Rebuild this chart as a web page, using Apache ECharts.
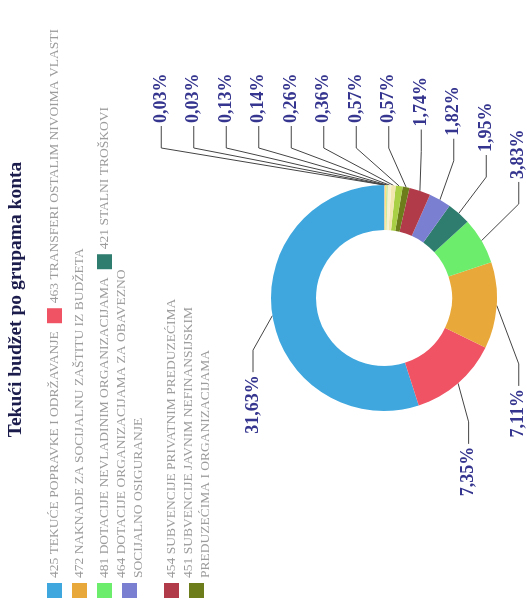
<!DOCTYPE html>
<html>
<head>
<meta charset="utf-8">
<script src="https://cdn.jsdelivr.net/npm/echarts@6/dist/echarts.min.js"></script>
<style>
  html, body { margin: 0; padding: 0; background: #fff; overflow: hidden; width: 527px; height: 599px; }
  #wrap { position: absolute; left: -36px; top: 36px; width: 599px; height: 527px; transform: rotate(-90deg); transform-origin: 50% 50%; background: #fff; }
  #chart { width: 599px; height: 527px; }
</style>
</head>
<body>
<div id="wrap"><div id="chart"></div></div>
<script>
// ---- data ----
const titleText = 'Tekući budžet po grupama konta';
const categories = [
  '425 TEKUĆE POPRAVKE I ODRŽAVANJE',
  '463 TRANSFERI OSTALIM NIVOIMA VLASTI',
  '472 NAKNADE ZA SOCIJALNU ZAŠTITU IZ BUDŽETA',
  '481 DOTACIJE NEVLADINIM ORGANIZACIJAMA',
  '421 STALNI TROŠKOVI',
  '464 DOTACIJE ORGANIZACIJAMA ZA OBAVEZNO SOCIJALNO OSIGURANJE',
  '454 SUBVENCIJE PRIVATNIM PREDUZEĆIMA',
  '451 SUBVENCIJE JAVNIM NEFINANSIJSKIM PREDUZEĆIMA I ORGANIZACIJAMA',
  '465 OSTALE DOTACIJE I TRANSFERI',
  '482 POREZI, OBAVEZNE TAKSE I KAZNE',
  '426 MATERIJAL',
  '422 TROŠKOVI PUTOVANJA',
  '444 PRATEĆI TROŠKOVI ZADUŽIVANJA',
  '483 NOVČANE KAZNE I PENALI',
  '485 NAKNADA ŠTETE'
];
const values = [31.63, 7.35, 7.11, 3.83, 1.95, 1.82, 1.74, 0.57, 0.57, 0.36, 0.26, 0.14, 0.13, 0.03, 0.03];
const legendShown = 8;
const legendLines = {
  '464 DOTACIJE ORGANIZACIJAMA ZA OBAVEZNO SOCIJALNO OSIGURANJE': '464 DOTACIJE ORGANIZACIJAMA ZA OBAVEZNO\nSOCIJALNO OSIGURANJE',
  '451 SUBVENCIJE JAVNIM NEFINANSIJSKIM PREDUZEĆIMA I ORGANIZACIJAMA': '451 SUBVENCIJE JAVNIM NEFINANSIJSKIM\nPREDUZEĆIMA I ORGANIZACIJAMA'
};

// ---- style / layout ----
const palette = ['#3fa7de', '#ef5364', '#e9a83a', '#6cee6c', '#2f7d6f', '#7b7fd2', '#b23b4a', '#6d7d1c',
                 '#a9cf45', '#f3e7b0', '#f7f1cf', '#cfe9a0', '#ffe27a', '#c8c8c8', '#9a9a9a'];
const CX = 301, CY = 384, R_IN = 68, R_OUT = 113, LEN = 37, LEN2 = 22;
const RA = R_OUT + LEN;           // horizontal semi-axis of the label curve
const RB_RIGHT = 173, RB_LEFT = 150;
const TOP_LEFT_BAND = 131, TOP_LEFT_R = 141;

function placeLabel(p) {
  const pts = p.labelLinePoints;
  if (!pts || pts.length < 3) return;
  const rect = p.labelRect;
  let y = rect.y + rect.height / 2;
  const dir = pts[2][0] >= pts[1][0] ? 1 : -1;
  let dy = y - CY;
  let x1;
  if (dy < 0) {
    if (dir < 0) {                  // upper-left label: kept inside the label band
      dy = Math.max(dy, -TOP_LEFT_BAND);
      y = CY + dy;
      x1 = CX - Math.sqrt(TOP_LEFT_R * TOP_LEFT_R - dy * dy);
    } else {
      x1 = CX + RA;                 // upper-right labels: one aligned column
    }
  } else {
    const rB = dir > 0 ? RB_RIGHT : RB_LEFT;
    const k = Math.max(0, 1 - (dy * dy) / (rB * rB));
    x1 = CX + dir * RA * Math.sqrt(k);
  }
  const x2 = x1 + dir * LEN2;
  return {
    x: x2 + dir * 3, y: y,
    align: dir > 0 ? 'left' : 'right', verticalAlign: 'middle',
    labelLinePoints: [pts[0], [x1, y], [x2, y]]
  };
}

const chart = echarts.init(document.getElementById('chart'), null, { renderer: 'canvas' });
chart.setOption({
  animation: false,
  color: palette,
  title: {
    text: titleText,
    left: 'center',
    top: 6,
    padding: 0,
    textStyle: { fontFamily: 'Liberation Serif', fontWeight: 'bold', fontSize: 19.5, color: '#1c1c4c' }
  },
  legend: {
    data: categories.slice(0, legendShown),
    orient: 'horizontal',
    left: 1,
    top: 46,
    padding: 0,
    itemGap: 8,
    itemWidth: 15,
    itemHeight: 15,
    icon: 'rect',
    selectedMode: false,
    formatter: function (n) { return legendLines[n] || n; },
    textStyle: { fontFamily: 'Liberation Serif', fontSize: 13.5, color: '#9c9c9c', lineHeight: 17 }
  },
  series: [{
    type: 'pie',
    left: 0, top: 0, width: 599, height: 535,
    center: [CX, CY],
    radius: [R_IN, R_OUT],
    startAngle: 0,
    clockwise: false,
    avoidLabelOverlap: true,
    emphasis: { disabled: true },
    label: {
      show: true,
      position: 'outside',
      formatter: function (p) { return p.value.toFixed(2).replace('.', ',') + '%'; },
      fontFamily: 'Liberation Serif',
      fontWeight: 'bold',
      fontSize: 18,
      lineHeight: 30.5,
      color: '#35358f'
    },
    labelLine: { show: true, length: LEN, length2: LEN2, lineStyle: { color: '#444', width: 1 } },
    labelLayout: placeLabel,
    itemStyle: { borderWidth: 0 },
    data: categories.map(function (c, i) { return { name: c, value: values[i] }; })
  }]
});
</script>
</body>
</html>
